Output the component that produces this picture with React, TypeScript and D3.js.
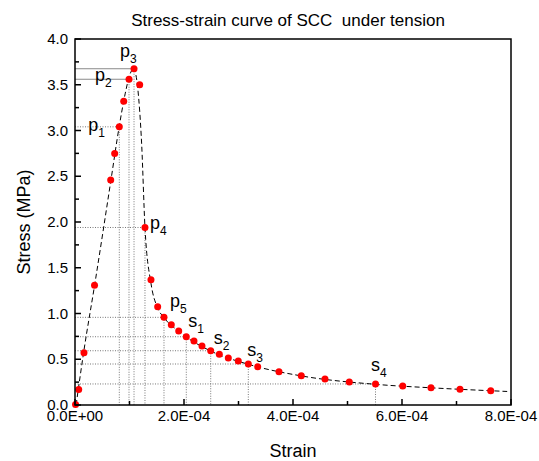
import React from "react";
import * as d3 from "d3";

// ---- data ----
const strain = [
  1e-6, 6.8e-6, 1.65e-5, 3.58e-5, 6.55e-5, 7.28e-5, 8.13e-5, 8.94e-5, 9.91e-5, 1.083e-4,
  1.187e-4, 1.284e-4, 1.394e-4, 1.517e-4, 1.633e-4, 1.767e-4, 1.903e-4, 2.042e-4, 2.183e-4,
  2.33e-4, 2.49e-4, 2.648e-4, 2.813e-4, 2.996e-4, 3.18e-4, 3.352e-4, 3.743e-4, 4.152e-4,
  4.587e-4, 5.033e-4, 5.514e-4, 6.013e-4, 6.532e-4, 7.064e-4, 7.628e-4,
];
const stress = [
  0.005, 0.17, 0.57, 1.31, 2.46, 2.75, 3.04, 3.32, 3.56, 3.675,
  3.5, 1.94, 1.37, 1.074, 0.958, 0.878, 0.809, 0.746, 0.699,
  0.645, 0.593, 0.554, 0.514, 0.481, 0.448, 0.419, 0.364, 0.32,
  0.284, 0.251, 0.23, 0.208, 0.189, 0.172, 0.156,
];

// fitted dashed curve (ascending / descending branch)
const ascStrain = [2e-6, 1.65e-5, 3.6e-5, 6.6e-5, 8.1e-5, 9.2e-5, 1.0e-4, 1.083e-4];
const ascStress = [0, 0.6, 1.31, 2.46, 3.04, 3.4, 3.6, 3.69];
const descStrain = [1.083e-4, 1.15e-4, 1.224e-4, 1.284e-4, 1.394e-4, 1.517e-4, 1.633e-4, 1.903e-4, 2.49e-4, 3.18e-4, 4.152e-4, 5.514e-4, 6.532e-4, 7.93e-4];
const descStress = [3.69, 3.47, 2.84, 1.94, 1.33, 1.06, 0.955, 0.805, 0.59, 0.445, 0.318, 0.226, 0.188, 0.148];

// labelled characteristic points
const labelLetters = ["p", "p", "p", "p", "p", "s", "s", "s", "s"];
const labelSubs = ["1", "2", "3", "4", "5", "1", "2", "3", "4"];
const labelIndex = [6, 8, 9, 11, 14, 17, 20, 24, 30];

const yTicks = [0, 0.5, 1.0, 1.5, 2.0, 2.5, 3.0, 3.5, 4.0];
const xTicks = [0, 2e-4, 4e-4, 6e-4, 8e-4];

const title = "Stress-strain curve of SCC  under tension";
const xTitle = "Strain";
const yTitle = "Stress (MPa)";

// ---- layout ----
const W = 539, H = 461;
const L = 75, R = 511, T = 39, B = 405;
const FONT = "Arial, 'Liberation Sans', sans-serif";

// label offsets (px) relative to point
const labelOffsets: [number, number][] = [
  [-31, 4], [-34, 2], [-14, -12], [5, 1.5], [6, -10], [2, -10], [3, -7], [-1, -8], [-4.5, -12.5],
];
const solidGuides = new Set([1, 2]);

export default function App() {
  const x = d3.scaleLinear().domain([0, 8e-4]).range([L, R]);
  const y = d3.scaleLinear().domain([0, 4]).range([B, T]);

  const lineGen = d3
    .line<[number, number]>()
    .x((d) => x(d[0]))
    .y((d) => y(d[1]))
    .curve(d3.curveMonotoneX);

  const asc = lineGen(ascStrain.map((s, i) => [s, ascStress[i]] as [number, number])) || "";
  const desc = lineGen(descStrain.map((s, i) => [s, descStress[i]] as [number, number])) || "";

  const yMinor = d3.range(0.25, 4, 0.5);
  const xMinor = [1e-4, 3e-4, 5e-4, 7e-4];

  const fmtX = (v: number) => (v === 0 ? "0.0E+00" : (v / 1e-4).toFixed(1) + "E-04");

  return (
    <svg
      width={W}
      height={H}
      style={{ position: "absolute", left: 0, top: 0, background: "#fff" }}
      fontFamily={FONT}
    >
      <rect x={0} y={0} width={W} height={H} fill="#fff" />
      {/* guide lines */}
      {labelIndex.map((idx, k) => {
        const px = x(strain[idx]);
        const py = y(stress[idx]);
        const solid = solidGuides.has(k);
        return (
          <g key={"g" + k}>
            <line
              x1={L}
              x2={px}
              y1={py}
              y2={py}
              stroke={solid ? "#8a8a8a" : "#777"}
              strokeWidth={1}
              strokeDasharray={solid ? undefined : "1,1.5"}
            />
            <line
              x1={px}
              x2={px}
              y1={py}
              y2={B}
              stroke="#777"
              strokeWidth={1}
              strokeDasharray="1,1.5"
            />
          </g>
        );
      })}

      {/* fitted dashed curve */}
      <path d={asc} fill="none" stroke="#000" strokeWidth={1} strokeDasharray="5,3" />
      <path d={desc} fill="none" stroke="#000" strokeWidth={1} strokeDasharray="5,3" />

      {/* points */}
      {strain.map((s, i) => (
        <circle key={"c" + i} cx={x(s)} cy={y(stress[i])} r={3.5} fill="#ff0000" />
      ))}

      {/* labels */}
      {labelIndex.map((idx, k) => {
        const px = x(strain[idx]) + labelOffsets[k][0];
        const py = y(stress[idx]) + labelOffsets[k][1];
        return (
          <text key={"l" + k} x={px} y={py} fontSize={18} fill="#000">
            {labelLetters[k]}
            <tspan fontSize={12} dy={6}>
              {labelSubs[k]}
            </tspan>
          </text>
        );
      })}

      {/* frame */}
      <rect x={L} y={T} width={R - L} height={B - T} fill="none" stroke="#000" strokeWidth={1.5} />

      {/* y ticks */}
      {yTicks.map((v) => (
        <g key={"yt" + v}>
          <line x1={L} x2={L + 6} y1={y(v)} y2={y(v)} stroke="#000" strokeWidth={1.5} />
          <text x={L - 7} y={y(v) + 5} fontSize={15} textAnchor="end" fill="#000">
            {v.toFixed(1)}
          </text>
        </g>
      ))}
      {yMinor.map((v) => (
        <line key={"ym" + v} x1={L} x2={L + 4} y1={y(v)} y2={y(v)} stroke="#000" strokeWidth={1.5} />
      ))}

      {/* x ticks */}
      {xTicks.map((v) => (
        <g key={"xt" + v}>
          <line x1={x(v)} x2={x(v)} y1={B} y2={B - 6} stroke="#000" strokeWidth={1.5} />
          <text x={x(v)} y={B + 16} fontSize={15} textAnchor="middle" fill="#000">
            {fmtX(v)}
          </text>
        </g>
      ))}
      {xMinor.map((v) => (
        <line key={"xm" + v} x1={x(v)} x2={x(v)} y1={B} y2={B - 4} stroke="#000" strokeWidth={1.5} />
      ))}

      {/* titles */}
      <text x={288} y={26} fontSize={17} textAnchor="middle" fill="#000" style={{ whiteSpace: "pre" }}>
        {title}
      </text>
      <text x={(L + R) / 2} y={457} fontSize={18} textAnchor="middle" fill="#000">
        {xTitle}
      </text>
      <text
        x={0}
        y={0}
        fontSize={18}
        textAnchor="middle"
        fill="#000"
        transform={`translate(30, ${(T + B) / 2}) rotate(-90)`}
      >
        {yTitle}
      </text>
    </svg>
  );
}
